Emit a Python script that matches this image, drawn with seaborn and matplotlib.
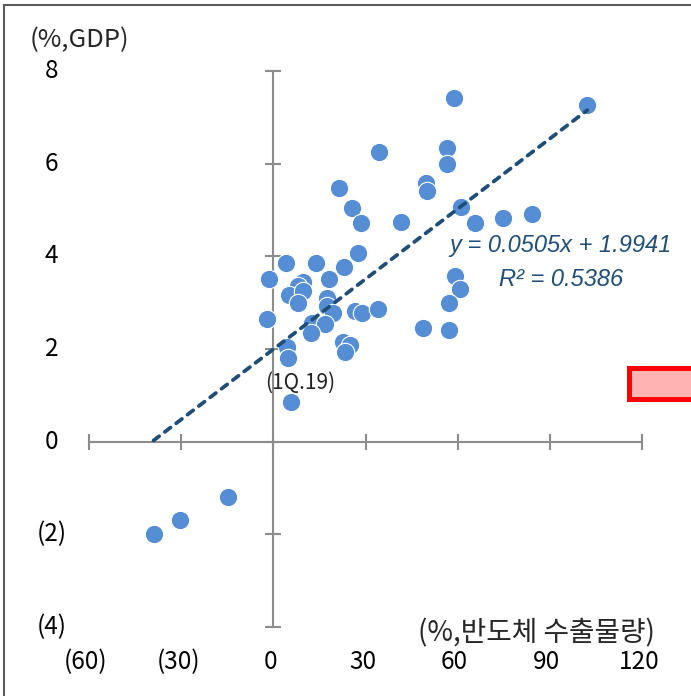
import matplotlib
matplotlib.use('Agg')
import matplotlib.pyplot as plt
import seaborn as sns
import numpy as np
import pandas as pd
from matplotlib.patches import Rectangle
from matplotlib.transforms import blended_transform_factory

# Semiconductor export volume growth (%), x
semis_export = [102.2, 58.9, 56.6, 56.6, 34.5, 49.8, 50.1, 21.5, 25.7, 28.6,
                41.6, 61.2, 65.7, 74.8, 84.3, 27.7, 23.1, 4.2, 14.0, -1.3,
                9.8, 8.1, 18.2, 5.2, 9.8, 8.1, 17.6, 17.6, 19.5, 26.7,
                29.0, 34.2, -2.0, 12.7, 16.9, 12.4, 22.8, 25.1, 23.4, 4.6,
                4.9, 5.9, 59.2, 60.8, 57.3, 48.8, 57.3, -39.0, -30.3, -14.6]
# GDP growth (%), y
gdp_growth = [7.26, 7.41, 6.33, 6.00, 6.26, 5.59, 5.40, 5.48, 5.05, 4.72,
              4.75, 5.07, 4.72, 4.83, 4.92, 4.07, 3.77, 3.86, 3.86, 3.51,
              3.44, 3.36, 3.51, 3.16, 3.25, 2.99, 3.10, 2.93, 2.77, 2.82,
              2.77, 2.86, 2.64, 2.56, 2.54, 2.34, 2.15, 2.08, 1.93, 2.04,
              1.80, 0.85, 3.58, 3.29, 2.99, 2.45, 2.41, -1.99, -1.69, -1.19]

x_ticks = [-60, -30, 0, 30, 60, 90, 120]
x_tick_labels = ['(60)', '(30)', '0', '30', '60', '90', '120']
y_ticks = [-4, -2, 0, 2, 4, 6, 8]
y_tick_labels = ['(4)', '(2)', '0', '2', '4', '6', '8']

trend_slope = 0.0505
trend_intercept = 1.9941
trend_r2 = 0.5386

annot_label = '(1Q.19)'
annot_index = 41

y_title = '(%,GDP)'
x_title = '(%,반도체 수출물량)'

sns.set_theme(style='white')
plt.rcParams['font.family'] = ['Noto Sans CJK KR', 'DejaVu Sans']

W, H = 691, 696
fig = plt.figure(figsize=(W / 100, H / 100), dpi=100)
ax = fig.add_axes([89 / W, 1 - 627 / H, 553 / W, 556 / H])

df = pd.DataFrame({'export': semis_export, 'gdp': gdp_growth})
sns.scatterplot(data=df, x='export', y='gdp', ax=ax, s=175, color='#558ED5',
                edgecolor='white', linewidth=0.8, zorder=3)

xs = np.array([min(semis_export), max(semis_export)])
ax.plot(xs, trend_slope * xs + trend_intercept, color='#1F4E79', lw=2.7,
        ls=(0, (1.9, 1.9)), dash_capstyle='round', zorder=4)

ax.set_xlim(x_ticks[0], x_ticks[-1])
ax.set_ylim(y_ticks[0], y_ticks[-1])
ax.set_xticks(x_ticks)
ax.set_yticks(y_ticks)
ax.set_xlabel('')
ax.set_ylabel('')

axis_gray = '#8c8c8c'
for side in ['top', 'right']:
    ax.spines[side].set_visible(False)
for side in ['left', 'bottom']:
    ax.spines[side].set_position(('data', 0))
    ax.spines[side].set_color(axis_gray)
    ax.spines[side].set_linewidth(1.5)
    ax.spines[side].set_zorder(1)
ax.tick_params(axis='both', which='major', direction='inout', length=12,
               width=1.5, color=axis_gray, bottom=True, left=True,
               labelbottom=False, labelleft=False)
ax.patch.set_alpha(0)

fs = 17.5
ty = blended_transform_factory(ax.transAxes, ax.transData)
for v, lab in zip(y_ticks, y_tick_labels):
    ax.text(-0.068, v, lab, transform=ty, ha='center', va='center',
            fontsize=fs, color='black')
tx = blended_transform_factory(ax.transData, ax.transAxes)
for v, lab in zip(x_ticks, x_tick_labels):
    ax.text(v - 1, -0.063, lab, transform=tx, ha='center', va='center',
            fontsize=fs, color='black')

fig.text(30 / W, 1 - 40 / H, y_title, ha='left', va='center', fontsize=18.5)
fig.text(655 / W, 1 - 633 / H, x_title, ha='right', va='center', fontsize=20)

ax.annotate(annot_label, (semis_export[annot_index], gdp_growth[annot_index]),
            xytext=(6, 14), textcoords='offset points', ha='center',
            va='center', fontsize=15, color='#222222')

eq_font = dict(family=['Liberation Sans', 'DejaVu Sans'], style='italic',
               fontsize=17, color='#1F4E79', ha='center', va='center')
ax.text(93.4, 4.23, f'y = {trend_slope:.4f}x + {trend_intercept:.4f}', **eq_font)
ax.text(93.7, 3.49, f'R² = {trend_r2:.4f}', **eq_font)

# figure frame
fig.patches.append(Rectangle((3.5 / W, -0.1), 1.2, 1.1 - 5 / H,
                             transform=fig.transFigure, fill=False,
                             edgecolor='#5a5a5a', lw=1.5, clip_on=False))
# red highlight box
fig.patches.append(Rectangle((628.5 / W, 1 - 398.5 / H), 0.2, 31 / H,
                             transform=fig.transFigure, facecolor='#FFB3B3',
                             edgecolor='#FF0000', lw=3.6, clip_on=False))

fig.savefig('out.png', dpi=100)
